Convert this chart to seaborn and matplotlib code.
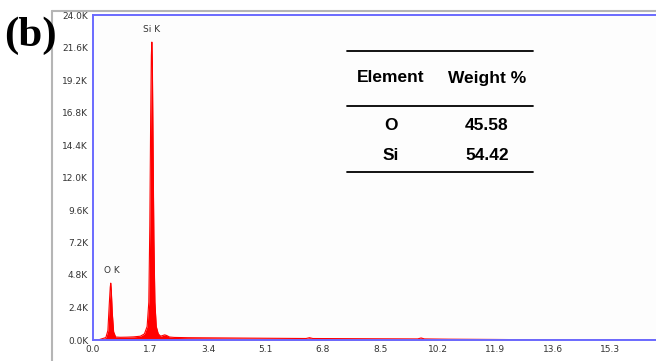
import numpy as np
import pandas as pd
import matplotlib
matplotlib.use('Agg')
import matplotlib.pyplot as plt
from matplotlib.lines import Line2D
import seaborn as sns

# EDS spectrum (keV, counts)
energy = [0.0, 0.15, 0.25, 0.38, 0.44, 0.48, 0.51, 0.525, 0.54, 0.57, 0.61, 0.67,
          0.8, 1.0, 1.2, 1.4, 1.52, 1.6, 1.65, 1.68, 1.705, 1.725, 1.74, 1.755, 1.775,
          1.80, 1.83, 1.87, 1.93, 2.0, 2.06, 2.12, 2.18, 2.26, 2.4, 2.8, 3.4, 4.0,
          5.1, 6.3, 6.4, 6.5, 7.5, 8.5, 9.6, 9.7, 9.8, 10.5, 11.9, 13.0, 14.0, 17.0]
counts = [0, 0, 80, 180, 700, 2600, 3900, 4200, 3700, 2000, 600, 220,
          200, 210, 230, 280, 450, 1000, 2800, 8500, 16500, 21000, 22000, 20500, 14500,
          7500, 2800, 1000, 450, 280, 330, 380, 330, 220, 190, 170, 160, 150,
          130, 110, 170, 110, 100, 90, 80, 150, 80, 60, 40, 20, 0, 0]

xticks = [0.0, 1.7, 3.4, 5.1, 6.8, 8.5, 10.2, 11.9, 13.6, 15.3]
yticks = [0, 2400, 4800, 7200, 9600, 12000, 14400, 16800, 19200, 21600, 24000]

table_header = ['Element', 'Weight %']
table_elements = ['O', 'Si']
table_weights = ['45.58', '54.42']

peak_labels = ['O K', 'Si K']
peak_pos = [0.56, 1.74]
peak_label_y = [5100, 22900]

df = pd.DataFrame({'energy': energy, 'counts': counts})

sns.set_style('white')
plt.rcParams['font.family'] = ['DejaVu Sans']

fig = plt.figure(figsize=(6.56, 3.61), dpi=100)
fig.patch.set_facecolor('white')
ax = fig.add_axes([93 / 656, 1 - 340 / 361, 575 / 656, 325 / 361])
ax.set_facecolor('#fdfdfd')

ax.fill_between(df['energy'], 0, df['counts'], color='#ff0000', lw=0)
sns.lineplot(data=df, x='energy', y='counts', color='#ff0000', lw=0.8, ax=ax)

ax.set_xlim(0, 17.0)
ax.set_ylim(0, 24000)
ax.set_xticks(xticks)
ax.set_xticklabels([f'{t:.1f}' for t in xticks])
ax.set_yticks(yticks)
ax.set_yticklabels([f'{t / 1000:.1f}K' for t in yticks])
ax.tick_params(axis='both', labelsize=6.5, colors='#333333', length=2, width=0.6, pad=1.5)
ax.set_xlabel('')
ax.set_ylabel('')
for s in ax.spines.values():
    s.set_color('#6a6aff')
    s.set_linewidth(1.4)

for lab, px, py in zip(peak_labels, peak_pos, peak_label_y):
    ax.text(px, py, lab, fontsize=6.5, color='#333333', ha='center', va='center')

# outer gray window frame
fig.add_artist(Line2D([52 / 656, 1], [1 - 11 / 361] * 2, color='#b5b5b5', lw=1.5,
                      transform=fig.transFigure))
fig.add_artist(Line2D([52 / 656] * 2, [0, 1 - 11 / 361], color='#b5b5b5', lw=1.5,
                      transform=fig.transFigure))

# panel label
fig.text(4 / 656, 1 - 36 / 361, '(b)', fontsize=31, fontweight='bold', color='black',
         family='Liberation Serif', va='center', ha='left')

# composition table
tf = dict(fontsize=12.5, fontweight='bold', family='Liberation Sans', color='black',
          ha='center', va='center')
col_x = [391 / 656, 487 / 656]
for y_px in [51, 106, 172]:
    fig.add_artist(Line2D([347 / 656, 533 / 656], [1 - y_px / 361] * 2, color='black', lw=1.3,
                          transform=fig.transFigure))
for cx, h in zip(col_x, table_header):
    fig.text(cx, 1 - 78 / 361, h, **tf)
for i, (el, w) in enumerate(zip(table_elements, table_weights)):
    yy = 1 - (125 + 30 * i) / 361
    fig.text(col_x[0], yy, el, **tf)
    fig.text(col_x[1], yy, w, **tf)

fig.savefig('out.png', dpi=100)
